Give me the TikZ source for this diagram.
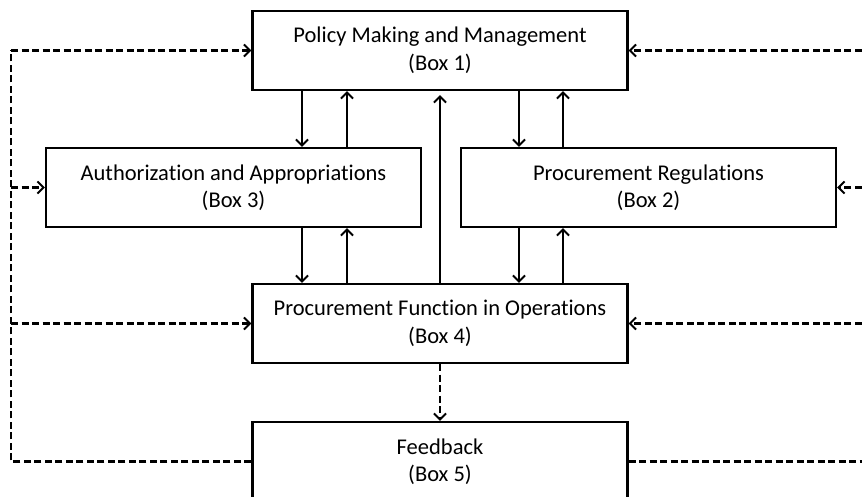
\documentclass[tikz,border=0pt]{standalone}
\usepackage{fontspec}
\setmainfont{Carlito}[Ligatures=NoCommon]
\usetikzlibrary{arrows.meta}
\begin{document}
\begin{tikzpicture}[x=1pt,y=-1pt,
  boxnode/.style={draw=black, line width=2.3pt, minimum width=375pt, minimum height=79pt,
    align=center, inner sep=0pt, font=\fontsize{22.5}{27.5}\selectfont},
  solidarrow/.style={line width=2.2pt, -{Straight Barb[length=6pt,width=12pt,line width=2pt]}},
  dasharrow/.style={line width=2.3pt, dash pattern=on 7pt off 3.5pt, -{Straight Barb[length=6pt,width=12pt,line width=2pt]}},
  dashline/.style={line width=2.8pt, dash pattern=on 7pt off 3.5pt}]
\useasboundingbox (0,0) rectangle (862,497);
\clip (0,0) rectangle (862,497);
\node[boxnode] (b1) at (440,50.5) {Policy Making and Management\\(Box 1)};
\node[boxnode] (b3) at (233.5,187.5) {Authorization and Appropriations\\(Box 3)};
\node[boxnode] (b2) at (648.5,187.5) {Procurement Regulations\\(Box 2)};
\node[boxnode] (b4) at (440,323.5) {Procurement Function in Operations\\(Box 4)};
\node[boxnode] (b5) at (440,461.5) {Feedback\\(Box 5)};
% x positions of vertical arrows
\coordinate (xa) at (302,0);
\coordinate (xb) at (347,0);
\coordinate (xc) at (519,0);
\coordinate (xd) at (563,0);
% solid arrows
\draw[solidarrow] (b1.south -| xa) -- (b3.north -| xa);
\draw[solidarrow] (b3.north -| xb) -- (b1.south -| xb);
\draw[solidarrow] (b1.south -| xc) -- (b2.north -| xc);
\draw[solidarrow] (b2.north -| xd) -- (b1.south -| xd);
\draw[solidarrow] (b3.south -| xa) -- (b4.north -| xa);
\draw[solidarrow] (b4.north -| xb) -- (b3.south -| xb);
\draw[solidarrow] (b2.south -| xc) -- (b4.north -| xc);
\draw[solidarrow] (b4.north -| xd) -- (b2.south -| xd);
\draw[solidarrow, shorten >=4pt] (b4.north) -- (b1.south);
% dashed feedback
\draw[dasharrow] (b4.south) -- (b5.north);
\coordinate (lx) at (11,0);
\coordinate (rx) at (872,0);
\draw[dashline] (b5.west) -- (b5.west -| lx) -- (b1.west -| lx);
\draw[dasharrow] (b1.west -| lx) -- (b1.west);
\draw[dasharrow] (b3.west -| lx) -- (b3.west);
\draw[dasharrow] (b4.west -| lx) -- (b4.west);
\draw[dashline] (b5.east) -- (b5.east -| rx) -- (b1.east -| rx);
\draw[dasharrow] (b1.east -| rx) -- (b1.east);
\draw[dasharrow] (b2.east -| rx) -- (b2.east);
\draw[dasharrow] (b4.east -| rx) -- (b4.east);
\end{tikzpicture}
\end{document}
